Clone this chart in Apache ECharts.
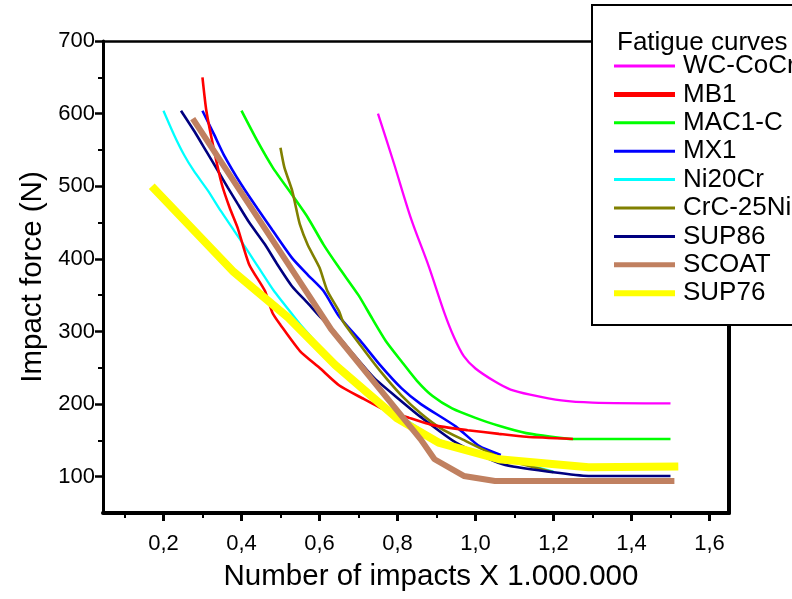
<!DOCTYPE html>
<html><head><meta charset="utf-8">
<script src="https://cdn.jsdelivr.net/npm/echarts@6/dist/echarts.min.js"></script>
<style>html,body{margin:0;padding:0;background:#fff}#c{width:792px;height:599px}</style>
</head><body><div id="c"></div>
<script>
// ---- data (x in millions of impacts, y impact force in N) ----
const seriesNames = ['WC-CoCr','MB1','MAC1-C','MX1','Ni20Cr','CrC-25NiCr','SUP86','SCOAT','SUP76'];
const seriesColors = ['#ff00ff','#ff0000','#00ff00','#0000ff','#00ffff','#808000','#000080','#c08060','#ffff00'];

const wcX = [0.75,0.79,0.835,0.88,0.92,0.945,0.97,1.0,1.05,1.09,1.14,1.22,1.30,1.50];
const wcY = [600,533,455,390,326,292,266,249,231,220,213,205,202,201];

const mb1X = [0.30,0.31,0.33,0.35,0.37,0.39,0.42,0.46,0.48,0.50,0.55,0.60,0.65,0.71,0.76,0.83,0.89,0.98,1.06,1.13,1.25];
const mb1Y = [650,604,549,502,470,443,392,356,325,309,273,250,226,208,194,181,171,164,159,155,152];

const macX = [0.40,0.44,0.48,0.53,0.57,0.61,0.65,0.70,0.735,0.77,0.81,0.85,0.89,0.94,1.00,1.06,1.13,1.25,1.50];
const macY = [604,563,526,488,457,420,388,350,318,287,259,232,211,194,181,170,160,152,152];

const mx1X = [0.30,0.33,0.355,0.40,0.44,0.48,0.53,0.57,0.61,0.65,0.705,0.755,0.81,0.86,0.95,1.01,1.065];
const mx1Y = [604,571,543,502,470,439,401,378,356,321,287,254,222,200,169,142,130];

const niX = [0.20,0.227,0.253,0.278,0.314,0.347,0.381,0.416,0.45,0.483,0.534,0.552,0.62,0.68,0.74,0.79,0.90,1.06,1.20];
const niY = [604,571,543,521,494,466,439,411,383,356,321,309,268,236,208,190,152,127,107];

const crcX = [0.50,0.51,0.53,0.54,0.55,0.57,0.60,0.62,0.65,0.66,0.705,0.755,0.81,0.86,0.91,0.96,1.07,1.20];
const crcY = [553,526,494,470,447,419,388,356,328,314,281,246,212,187,167,153,125,106];

const sup86X = [0.245,0.28,0.31,0.34,0.365,0.39,0.42,0.46,0.49,0.53,0.57,0.60,0.63,0.68,0.74,0.81,0.86,0.95,1.07,1.20,1.29,1.50];
const sup86Y = [604,575,548,521,498,476,450,420,394,362,339,321,305,273,236,204,182,147,117,106,101,101];

const scoatX = [0.275,0.63,0.86,0.895,0.97,1.05,1.51];
const scoatY = [593,303,151,124,101,94,94];

const sup76X = [0.17,0.38,0.52,0.64,0.80,0.905,1.06,1.29,1.52];
const sup76Y = [500,382,319,254,180,147,124,113,114];

const xLabelValues = [0.2,0.4,0.6,0.8,1.0,1.2,1.4,1.6];
const xMinorValues = [0.1,0.3,0.5,0.7,0.9,1.1,1.3,1.5];
const yLabelValues = [100,200,300,400,500,600,700];
const yMinorValues = [150,250,350,450,550,650];

// ---- build ----
const zip = (xs, ys) => xs.map((x, i) => [x, ys[i]]);
const dataSets = [zip(wcX,wcY), zip(mb1X,mb1Y), zip(macX,macY), zip(mx1X,mx1Y), zip(niX,niY),
                  zip(crcX,crcY), zip(sup86X,sup86Y), zip(scoatX,scoatY), zip(sup76X,sup76Y)];
const lineWidths = [2.3,2.6,2.6,2.6,2.3,2.6,2.6,6,8];
const legendWidths = [3,5,3,3,3,3,3,5,6];
const smoothFlags = [0.3,0.2,0.2,0.2,0.2,0.2,0.2,false,false];
const drawOrder = [0,2,3,4,5,6,1,8,7];

const FONT = "'Liberation Sans', Arial, sans-serif";
const chart = echarts.init(document.getElementById('c'), null, {renderer: 'canvas'});

const series = drawOrder.map(i => ({
  name: seriesNames[i], type: 'line', data: dataSets[i], symbol: 'none', showSymbol: false,
  smooth: smoothFlags[i], xAxisIndex: 0, yAxisIndex: 0,
  lineStyle: {color: seriesColors[i], width: lineWidths[i]}, itemStyle: {color: seriesColors[i]},
  emphasis: {disabled: true}, z: 2
}));

const XMIN = 0.045, XMAX = 1.65, YMIN = 50, YMAX = 700;

const option = {
  animation: false,
  backgroundColor: '#fff',
  grid: {left: 103, right: 63, top: 41, bottom: 86, containLabel: false},
  title: {text: 'Fatigue curves', left: 617, top: 28, padding: 0,
    textStyle: {fontFamily: FONT, fontSize: 26, fontWeight: 'normal', color: '#000', lineHeight: 30}},
  legend: {
    orient: 'vertical', left: 611, top: 52, padding: 0, itemGap: 0.4,
    itemWidth: 61, itemHeight: 14,
    itemStyle: {opacity: 0},
    textStyle: {fontFamily: FONT, fontSize: 26, color: '#000', lineHeight: 28, padding: [0,0,0,3]},
    selectedMode: false,
    data: seriesNames.map((n, i) => ({name: n, lineStyle: {width: legendWidths[i], color: seriesColors[i]}, itemStyle: {opacity: 0}}))
  },
  xAxis: [
    {type: 'value', position: 'bottom', min: XMIN, max: XMAX,
     name: 'Number of impacts X 1.000.000', nameLocation: 'middle', nameGap: 49,
     nameTextStyle: {fontFamily: FONT, fontSize: 29.5, color: '#000', padding: [0,0,0,30]},
     axisLine: {onZero: false, lineStyle: {color: '#000', width: 4}},
     axisTick: {show: true, customValues: xLabelValues, length: 8, lineStyle: {color: '#000', width: 3}},
     axisLabel: {customValues: xLabelValues, margin: 20, fontFamily: FONT, fontSize: 22, color: '#000',
       formatter: v => v.toFixed(1).replace('.', ',')},
     splitLine: {show: false}},
    {type: 'value', position: 'bottom', min: XMIN, max: XMAX,
     axisLine: {show: false, onZero: false},
     axisTick: {show: true, customValues: xMinorValues, length: 5, lineStyle: {color: '#000', width: 2}},
     axisLabel: {show: false}, splitLine: {show: false}},
    {type: 'value', position: 'top', min: XMIN, max: XMAX,
     axisLine: {onZero: false, lineStyle: {color: '#000', width: 2.5}},
     axisTick: {show: false}, axisLabel: {show: false}, splitLine: {show: false}}
  ],
  yAxis: [
    {type: 'value', position: 'left', min: YMIN, max: YMAX,
     name: 'Impact force (N)', nameLocation: 'middle', nameGap: 47,
     nameTextStyle: {fontFamily: FONT, fontSize: 29.5, color: '#000'},
     axisLine: {onZero: false, lineStyle: {color: '#000', width: 3}},
     axisTick: {show: true, customValues: yLabelValues, length: 8, lineStyle: {color: '#000', width: 2.5}},
     axisLabel: {customValues: yLabelValues, margin: 8, fontFamily: FONT, fontSize: 22, color: '#000'},
     splitLine: {show: false}},
    {type: 'value', position: 'left', min: YMIN, max: YMAX,
     axisLine: {show: false, onZero: false},
     axisTick: {show: true, customValues: yMinorValues, length: 5, lineStyle: {color: '#000', width: 2}},
     axisLabel: {show: false}, splitLine: {show: false}},
    {type: 'value', position: 'right', min: YMIN, max: YMAX,
     axisLine: {onZero: false, lineStyle: {color: '#000', width: 4}},
     axisTick: {show: false}, axisLabel: {show: false}, splitLine: {show: false}}
  ],
  graphic: [
    {type: 'rect', z: 3, shape: {x: 592, y: 5, width: 240, height: 320},
     style: {fill: '#fff', stroke: '#000', lineWidth: 2}}
  ],
  series: series
};
chart.setOption(option);
</script>
</body></html>
